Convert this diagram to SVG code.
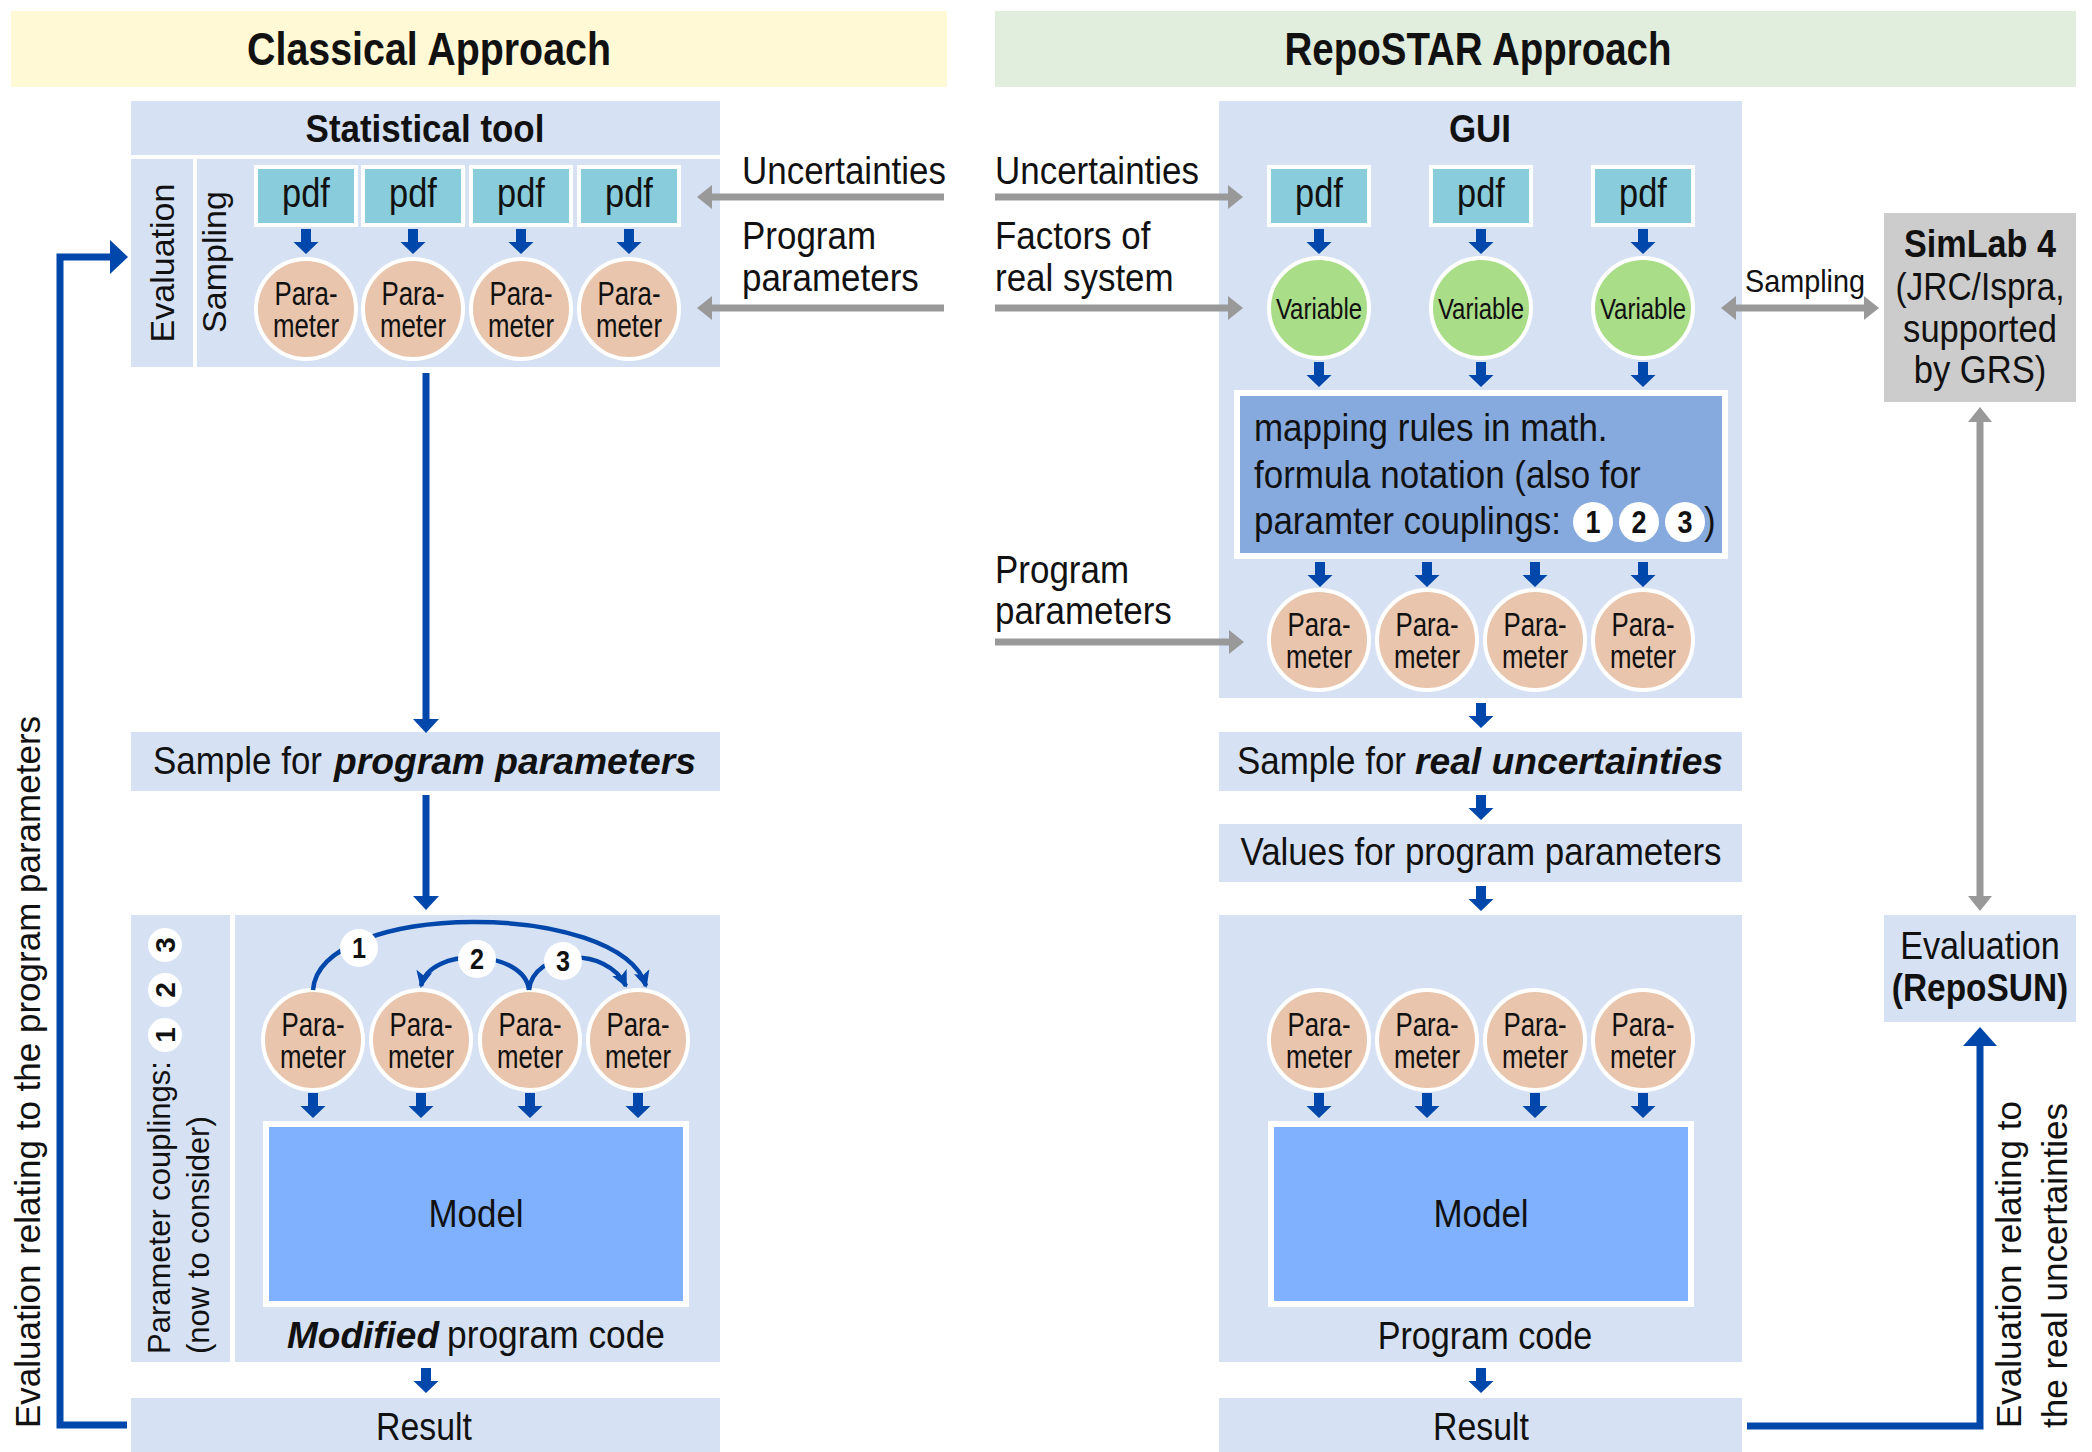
<svg xmlns="http://www.w3.org/2000/svg" xmlns:xlink="http://www.w3.org/1999/xlink" width="2092" height="1452" viewBox="0 0 2092 1452">
<style>
text{font-family:"Liberation Sans",Arial,sans-serif;fill:#111;}
.r{font-size:38px;}
.t32{font-size:32px;}
.b{font-weight:bold;}
.bi{font-weight:bold;font-style:italic;font-size:37px;}
.mid{text-anchor:middle;}
.panel{fill:#D6E2F4;}
.pdf{fill:#89CCDC;stroke:#fff;stroke-width:4;}
.par{fill:#E8C5AC;stroke:#fff;stroke-width:4;}
.var{fill:#A9DD88;stroke:#fff;stroke-width:4;}
.num{fill:#fff;}
.blue{fill:none;stroke:#0047AB;stroke-width:7;}
.cpl{fill:none;stroke:#0047AB;stroke-width:4.5;}
.bh{fill:#0047AB;}
.gray{fill:none;stroke:#999;stroke-width:7;}
.gh{fill:#999;}
</style>
<defs>
<path id="da" d="M-5 0H5V13H12.5L0 25L-12.5 13H-5Z" fill="#0047AB"/>
<marker id="mh" markerUnits="userSpaceOnUse" markerWidth="18" markerHeight="18" viewBox="0 0 18 18" refX="15" refY="9" orient="auto">
<path d="M0 1L17 9L0 17L4 9Z" fill="#0047AB"/>
</marker>
<g id="param">
<circle r="50" class="par"/>
<text class="mid" style="font-size:34px" transform="translate(0 -4) scale(.76 1)">Para-</text>
<text class="mid" style="font-size:34px" transform="translate(0 28) scale(.76 1)">meter</text>
</g>
<g id="pdfbox">
<rect x="-50" y="-29" width="100" height="58" class="pdf"/>
<text class="mid" style="font-size:40px" transform="translate(0 11) scale(.86 1)">pdf</text>
</g>
<g id="variable">
<circle r="50" class="var"/>
<text class="mid" style="font-size:30px" transform="translate(0 11) scale(.8 1)">Variable</text>
</g>
</defs>

<rect width="2092" height="1452" fill="#fff"/>

<g id="banner-classical">
<rect x="11" y="11" width="936" height="76" fill="#FFF9D6"/>
<text class="b mid" style="font-size:47px" x="429" y="65" textLength="364" lengthAdjust="spacingAndGlyphs">Classical Approach</text>
</g>
<g id="banner-repostar">
<rect x="995" y="11" width="1081" height="76" fill="#E2EEDD"/>
<text class="b mid" style="font-size:47px" x="1478" y="65" textLength="387" lengthAdjust="spacingAndGlyphs">RepoSTAR Approach</text>
</g>

<g id="statistical-tool">
<rect x="131" y="101" width="589" height="54" class="panel"/>
<rect x="131" y="159" width="62" height="208" class="panel"/>
<rect x="197" y="159" width="523" height="208" class="panel"/>
<text class="r b mid" transform="translate(425 142) scale(.92 1)">Statistical tool</text>
<text class="mid" style="font-size:34px" transform="translate(174 263) rotate(-90)">Evaluation</text>
<text class="mid" style="font-size:34px" transform="translate(226 262) rotate(-90)">Sampling</text>
<use href="#pdfbox" x="306" y="196"/>
<use href="#pdfbox" x="413" y="196"/>
<use href="#pdfbox" x="521" y="196"/>
<use href="#pdfbox" x="629" y="196"/>
<use href="#da" x="306" y="229"/>
<use href="#da" x="413" y="229"/>
<use href="#da" x="521" y="229"/>
<use href="#da" x="629" y="229"/>
<use href="#param" x="306" y="309"/>
<use href="#param" x="413" y="309"/>
<use href="#param" x="521" y="309"/>
<use href="#param" x="629" y="309"/>
</g>

<g id="left-inputs">
<text class="r" transform="translate(742 184) scale(.92 1)">Uncertainties</text>
<text class="r" transform="translate(742 249) scale(.92 1)">Program</text>
<text class="r" transform="translate(742 291) scale(.92 1)">parameters</text>
</g>

<g id="sample-program-parameters">
<rect x="131" y="732" width="589" height="59" class="panel"/>
<text class="r" transform="translate(153 774) scale(.92 1)">Sample for</text>
<text class="bi" x="334" y="774" textLength="362" lengthAdjust="spacingAndGlyphs">program parameters</text>
</g>

<g id="classical-model">
<rect x="131" y="915" width="99" height="447" class="panel"/>
<rect x="235" y="915" width="485" height="447" class="panel"/>
<text style="font-size:31px" transform="translate(170 1354) rotate(-90)">Parameter couplings:</text>
<text style="font-size:31px" transform="translate(209 1354) rotate(-90)">(now to consider)</text>
<circle cx="165" cy="1035" r="17" class="num"/>
<circle cx="165" cy="990" r="17" class="num"/>
<circle cx="165" cy="945" r="17" class="num"/>
<text class="b mid" style="font-size:28px" transform="translate(175 1035) rotate(-90)">1</text>
<text class="b mid" style="font-size:28px" transform="translate(175 990) rotate(-90)">2</text>
<text class="b mid" style="font-size:28px" transform="translate(175 945) rotate(-90)">3</text>
<use href="#param" x="313" y="1040"/>
<use href="#param" x="421" y="1040"/>
<use href="#param" x="530" y="1040"/>
<use href="#param" x="638" y="1040"/>
<path class="cpl" d="M313 990C320 900 620 900 646 986" marker-end="url(#mh)"/>
<path class="cpl" d="M529 990C525 950 430 945 421 986" marker-end="url(#mh)"/>
<path class="cpl" d="M529 990C533 950 606 945 626 986" marker-end="url(#mh)"/>
<circle cx="359" cy="948" r="19" class="num"/>
<circle cx="477" cy="959" r="19" class="num"/>
<circle cx="563" cy="961" r="19" class="num"/>
<text class="b mid" style="font-size:29px" transform="translate(359 958) scale(.87 1)">1</text>
<text class="b mid" style="font-size:29px" transform="translate(477 969) scale(.87 1)">2</text>
<text class="b mid" style="font-size:29px" transform="translate(563 971) scale(.87 1)">3</text>
<use href="#da" x="313" y="1093"/>
<use href="#da" x="421" y="1093"/>
<use href="#da" x="530" y="1093"/>
<use href="#da" x="638" y="1093"/>
<rect x="266" y="1124" width="420" height="180" fill="#80B1FF" stroke="#fff" stroke-width="6"/>
<text class="r mid" transform="translate(476 1227) scale(.92 1)">Model</text>
<text class="bi" x="287" y="1348" textLength="152" lengthAdjust="spacingAndGlyphs">Modified</text>
<text class="r" transform="translate(447 1348) scale(.93 1)">program code</text>
</g>

<g id="result-left">
<rect x="131" y="1398" width="589" height="54" class="panel"/>
<text class="r mid" transform="translate(424 1440) scale(.89 1)">Result</text>
</g>

<g id="gui">
<rect x="1219" y="101" width="523" height="597" class="panel"/>
<text class="r b mid" transform="translate(1480 142) scale(.92 1)">GUI</text>
<use href="#pdfbox" x="1319" y="196"/>
<use href="#pdfbox" x="1481" y="196"/>
<use href="#pdfbox" x="1643" y="196"/>
<use href="#da" x="1319" y="229"/>
<use href="#da" x="1481" y="229"/>
<use href="#da" x="1643" y="229"/>
<use href="#variable" x="1319" y="308"/>
<use href="#variable" x="1481" y="308"/>
<use href="#variable" x="1643" y="308"/>
<use href="#da" x="1319" y="362"/>
<use href="#da" x="1481" y="362"/>
<use href="#da" x="1643" y="362"/>
<rect x="1237" y="393" width="488" height="163" fill="#86A9DE" stroke="#fff" stroke-width="6"/>
<text class="r" transform="translate(1254 441) scale(.92 1)">mapping rules in math.</text>
<text class="r" transform="translate(1254 488) scale(.92 1)">formula notation (also for</text>
<text class="r" transform="translate(1254 534) scale(.92 1)">paramter couplings:</text>
<circle cx="1593" cy="522" r="20" class="num"/>
<circle cx="1639" cy="522" r="20" class="num"/>
<circle cx="1685" cy="522" r="20" class="num"/>
<text class="b mid" style="font-size:31px" transform="translate(1593 533) scale(.87 1)">1</text>
<text class="b mid" style="font-size:31px" transform="translate(1639 533) scale(.87 1)">2</text>
<text class="b mid" style="font-size:31px" transform="translate(1685 533) scale(.87 1)">3</text>
<text class="r" transform="translate(1704 534) scale(.92 1)">)</text>
<use href="#da" x="1320" y="562"/>
<use href="#da" x="1427" y="562"/>
<use href="#da" x="1535" y="562"/>
<use href="#da" x="1643" y="562"/>
<use href="#param" x="1319" y="640"/>
<use href="#param" x="1427" y="640"/>
<use href="#param" x="1535" y="640"/>
<use href="#param" x="1643" y="640"/>
</g>

<g id="right-inputs">
<text class="r" transform="translate(995 184) scale(.92 1)">Uncertainties</text>
<text class="r" transform="translate(995 249) scale(.92 1)">Factors of</text>
<text class="r" transform="translate(995 291) scale(.92 1)">real system</text>
<text class="r" transform="translate(995 583) scale(.92 1)">Program</text>
<text class="r" transform="translate(995 624) scale(.92 1)">parameters</text>
</g>

<g id="sample-real-uncertainties">
<rect x="1219" y="732" width="523" height="59" class="panel"/>
<text class="r" transform="translate(1237 774) scale(.92 1)">Sample for</text>
<text class="bi" x="1415" y="774" textLength="308" lengthAdjust="spacingAndGlyphs">real uncertainties</text>
</g>

<g id="values-program-parameters">
<rect x="1219" y="824" width="523" height="58" class="panel"/>
<text class="r mid" transform="translate(1481 865) scale(.92 1)">Values for program parameters</text>
</g>

<g id="repostar-model">
<rect x="1219" y="915" width="523" height="447" class="panel"/>
<use href="#param" x="1319" y="1040"/>
<use href="#param" x="1427" y="1040"/>
<use href="#param" x="1535" y="1040"/>
<use href="#param" x="1643" y="1040"/>
<use href="#da" x="1319" y="1093"/>
<use href="#da" x="1427" y="1093"/>
<use href="#da" x="1535" y="1093"/>
<use href="#da" x="1643" y="1093"/>
<rect x="1271" y="1124" width="420" height="180" fill="#80B1FF" stroke="#fff" stroke-width="6"/>
<text class="r mid" transform="translate(1481 1227) scale(.92 1)">Model</text>
<text class="r mid" transform="translate(1485 1349) scale(.9 1)">Program code</text>
</g>

<g id="result-right">
<rect x="1219" y="1398" width="523" height="54" class="panel"/>
<text class="r mid" transform="translate(1481 1440) scale(.89 1)">Result</text>
</g>

<g id="simlab">
<rect x="1884" y="213" width="192" height="189" fill="#CCCCCC"/>
<text class="r b mid" transform="translate(1980 257) scale(.9 1)">SimLab 4</text>
<text class="r mid" transform="translate(1980 300) scale(.88 1)">(JRC/Ispra,</text>
<text class="r mid" transform="translate(1980 342) scale(.91 1)">supported</text>
<text class="r mid" transform="translate(1980 383) scale(.91 1)">by GRS)</text>
</g>

<g id="evaluation-reposun">
<rect x="1884" y="915" width="192" height="107" class="panel"/>
<text class="r mid" transform="translate(1980 959) scale(.9 1)">Evaluation</text>
<text class="r b mid" transform="translate(1980 1001) scale(.88 1)">(RepoSUN)</text>
</g>

<g id="side-labels">
<text style="font-size:35px" transform="translate(40 1428) rotate(-90)">Evaluation relating to the program parameters</text>
<text style="font-size:35px" transform="translate(2021 1428) rotate(-90)">Evaluation relating to</text>
<text style="font-size:35px" transform="translate(2067 1428) rotate(-90)">the real uncertainties</text>
<text class="t32" transform="translate(1745 292) scale(.9 1)">Sampling</text>
</g>

<g id="connectors">
<path class="gray" d="M944 197H709"/>
<path class="gh" d="M697 197L712 185V209Z"/>
<path class="gray" d="M944 308H709"/>
<path class="gh" d="M697 308L712 296V320Z"/>
<path class="gray" d="M995 197H1231"/>
<path class="gh" d="M1243 197L1228 185V209Z"/>
<path class="gray" d="M995 308H1231"/>
<path class="gh" d="M1243 308L1228 296V320Z"/>
<path class="gray" d="M995 642H1231"/>
<path class="gh" d="M1244 642L1229 630V654Z"/>
<path class="gray" d="M1733 308H1867"/>
<path class="gh" d="M1721 308L1736 296V320Z"/>
<path class="gh" d="M1879 308L1864 296V320Z"/>
<path class="gray" d="M1980 420V898"/>
<path class="gh" d="M1980 407L1968 422H1992Z"/>
<path class="gh" d="M1980 911L1968 896H1992Z"/>
<path class="blue" d="M426 373V720"/>
<path class="bh" d="M413 719H439L426 733Z"/>
<path class="blue" d="M426 795V897"/>
<path class="bh" d="M413 896H439L426 910Z"/>
<use href="#da" x="426" y="1368"/>
<use href="#da" x="1481" y="703"/>
<use href="#da" x="1481" y="795"/>
<use href="#da" x="1481" y="886"/>
<use href="#da" x="1481" y="1368"/>
<path class="blue" d="M127 1425H60V257H112"/>
<path class="bh" d="M128 257L110 240V274Z"/>
<path class="blue" d="M1747 1426H1980V1044"/>
<path class="bh" d="M1980 1027L1963 1046H1997Z"/>
</g>
</svg>
